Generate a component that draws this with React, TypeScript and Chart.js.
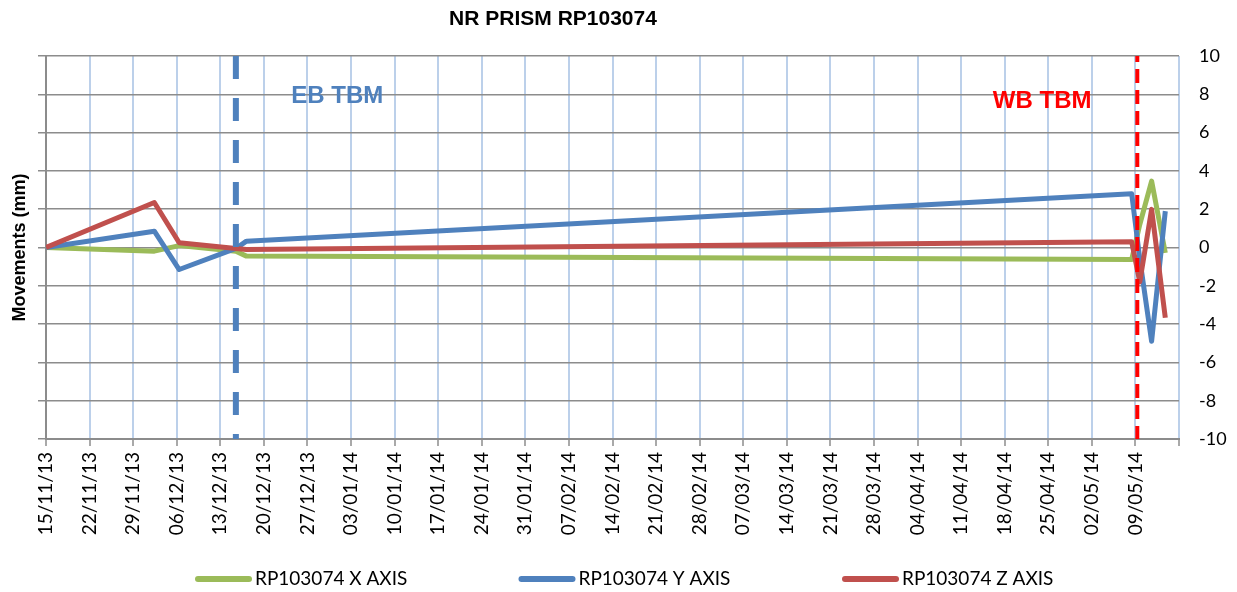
import React, { useEffect, useRef } from "react";
import { Chart, registerables } from "chart.js";

Chart.register(...registerables);

// ---- data ----
const startDate = new Date(2013, 10, 15); // 15/11/13 = day 0
const dayOffsets = [0, 17.4, 21.4, 30.5, 32.2, 174.4, 175.7, 177.6, 179.8];
const xAxisValues = [0, -0.19, 0.1, -0.19, -0.45, -0.63, 1.2, 3.47, -0.28];
const yAxisValues = [0, 0.85, -1.15, -0.05, 0.33, 2.81, -0.6, -4.9, 1.9];
const zAxisValues = [0, 2.35, 0.25, -0.05, -0.1, 0.3, -1.8, 1.99, -3.67];
const seriesLabels = ["RP103074 X AXIS", "RP103074 Y AXIS", "RP103074 Z AXIS"];
const seriesColors = ["#9bbb59", "#4f81bd", "#c0504d"];
const ebTbmDay = 30.5;
const wbTbmDay = 175.3;
const markerLabels = ["EB TBM", "WB TBM"];
const markerLabelDays = [39.4, 152.1];
const markerLabelValues = [7.9, 7.64];
const xMin = 0;
const xMax = 182;
const xStep = 7;
const yMin = -10;
const yMax = 10;
const yStep = 2;
const chartTitle = "NR PRISM RP103074";
const yTitle = "Movements (mm)";

function fmtDay(v: number): string {
  if (v >= xMax) return "";
  const d = new Date(startDate.getTime());
  d.setDate(d.getDate() + Math.round(v));
  const dd = String(d.getDate()).padStart(2, "0");
  const mm = String(d.getMonth() + 1).padStart(2, "0");
  const yy = String(d.getFullYear() % 100).padStart(2, "0");
  return `${dd}/${mm}/${yy}`;
}

const toPts = (vals: number[]) => vals.map((v, i) => ({ x: dayOffsets[i], y: v }));

const overlayPlugin = {
  id: "overlay",
  afterDatasetsDraw(chart: any) {
    const { ctx, scales } = chart;
    const x = scales.x;
    const y = scales.y;
    ctx.save();
    ctx.font = 'bold 24px "Liberation Sans", Arial, sans-serif';
    ctx.textAlign = "left";
    ctx.textBaseline = "middle";
    const colors = ["#4f81bd", "#ff0000"];
    markerLabels.forEach((t, i) => {
      ctx.fillStyle = colors[i];
      ctx.fillText(t, x.getPixelForValue(markerLabelDays[i]), y.getPixelForValue(markerLabelValues[i]));
    });
    ctx.restore();
  },
  afterDraw(chart: any) {
    const { ctx } = chart;
    ctx.save();
    // title
    ctx.font = 'bold 21px "Liberation Sans", Arial, sans-serif';
    ctx.fillStyle = "#000";
    ctx.textAlign = "center";
    ctx.textBaseline = "middle";
    ctx.fillText(chartTitle, 553, 19);
    // legend
    const legendY = 579;
    const startX = 195;
    const stride = 323.5;
    ctx.font = '19px Lato, sans-serif';
    ctx.textAlign = "left";
    seriesLabels.forEach((lab, i) => {
      const sx = startX + i * stride;
      ctx.strokeStyle = seriesColors[i];
      ctx.lineWidth = 6;
      ctx.lineCap = "round";
      ctx.beginPath();
      ctx.moveTo(sx + 3, legendY);
      ctx.lineTo(sx + 54, legendY);
      ctx.stroke();
      ctx.fillStyle = "#000";
      ctx.fillText(lab, sx + 60, legendY);
    });
    ctx.restore();
  },
};

export default function App() {
  const ref = useRef<HTMLCanvasElement>(null);
  useEffect(() => {
    if (!ref.current) return;
    Chart.defaults.font.family = "Lato, sans-serif";
    const chart = new Chart(ref.current, {
      type: "line",
      data: {
        datasets: [
          {
            label: seriesLabels[0],
            data: toPts(xAxisValues),
            borderColor: seriesColors[0],
            backgroundColor: seriesColors[0],
            borderWidth: 5,
            pointRadius: 0,
            tension: 0,
            borderJoinStyle: "round",
            order: 5,
          },
          {
            label: seriesLabels[1],
            data: toPts(yAxisValues),
            borderColor: seriesColors[1],
            backgroundColor: seriesColors[1],
            borderWidth: 5,
            pointRadius: 0,
            tension: 0,
            borderJoinStyle: "round",
            order: 4,
          },
          {
            label: seriesLabels[2],
            data: toPts(zAxisValues),
            borderColor: seriesColors[2],
            backgroundColor: seriesColors[2],
            borderWidth: 5,
            pointRadius: 0,
            tension: 0,
            borderJoinStyle: "round",
            order: 3,
          },
          {
            label: "EB TBM",
            data: [
              { x: ebTbmDay, y: yMax },
              { x: ebTbmDay, y: yMin },
            ],
            borderColor: "#4f81bd",
            borderWidth: 6,
            borderDash: [23, 19],
            borderCapStyle: "butt",
            pointRadius: 0,
            order: 1,
          },
          {
            label: "WB TBM",
            data: [
              { x: wbTbmDay, y: yMax },
              { x: wbTbmDay, y: yMin },
            ],
            borderColor: "#ff0000",
            borderWidth: 4,
            borderDash: [14, 7],
            borderDashOffset: 8,
            borderCapStyle: "butt",
            pointRadius: 0,
            order: 0,
          },
        ],
      },
      options: {
        animation: false,
        responsive: false,
        layout: { padding: { top: 56, left: 0, right: 0, bottom: 0 } },
        plugins: {
          legend: { display: false },
          title: { display: false },
          tooltip: { enabled: false },
        },
        scales: {
          x: {
            type: "linear",
            min: xMin,
            max: xMax,
            afterFit: (s: any) => {
              s.height = 153;
            },
            afterBuildTicks: (s: any) => {
              const t = [];
              for (let v = xMin; v <= xMax; v += xStep) t.push({ value: v });
              s.ticks = t;
            },
            ticks: {
              autoSkip: false,
              stepSize: xStep,
              minRotation: 90,
              maxRotation: 90,
              padding: 6,
              color: "#000",
              font: { size: 19, family: "Lato, sans-serif" },
              callback: (v: any) => fmtDay(Number(v)),
            },
            grid: {
              color: (c: any) => (c.tick && c.tick.value === xMin ? "rgba(0,0,0,0)" : "#bcd0ea"),
              lineWidth: 2,
              tickColor: "#8c8c8c",
              tickLength: 7,
              tickWidth: 1.5,
            },
            border: { color: "#8c8c8c", width: 2 },
          },
          y: {
            position: "left",
            min: yMin,
            max: yMax,
            afterFit: (s: any) => {
              s.width = 46;
            },
            ticks: { display: false, stepSize: yStep },
            grid: {
              color: "#8c8c8c",
              lineWidth: 1.5,
              tickLength: 8,
              tickColor: "#8c8c8c",
            },
            border: { color: "#8c8c8c", width: 2 },
            title: {
              display: true,
              text: yTitle,
              color: "#000",
              font: { size: 18, weight: "bold", family: '"Liberation Sans", Arial, sans-serif' },
              padding: { top: 9, bottom: 0 },
            },
          },
          y2: {
            position: "right",
            min: yMin,
            max: yMax,
            afterFit: (s: any) => {
              s.width = 58;
            },
            ticks: {
              stepSize: yStep,
              padding: 20,
              color: "#000",
              font: { size: 18, family: "Lato, sans-serif" },
            },
            grid: { display: false, drawTicks: false },
            border: { display: false },
          },
        },
      },
      plugins: [overlayPlugin],
    } as any);
    return () => chart.destroy();
  }, []);
  return (
    <div style={{ position: "absolute", left: 0, top: 0, width: 1237, height: 592, background: "#fff" }}>
      <canvas ref={ref} width={1237} height={592} style={{ display: "block" }} />
    </div>
  );
}
